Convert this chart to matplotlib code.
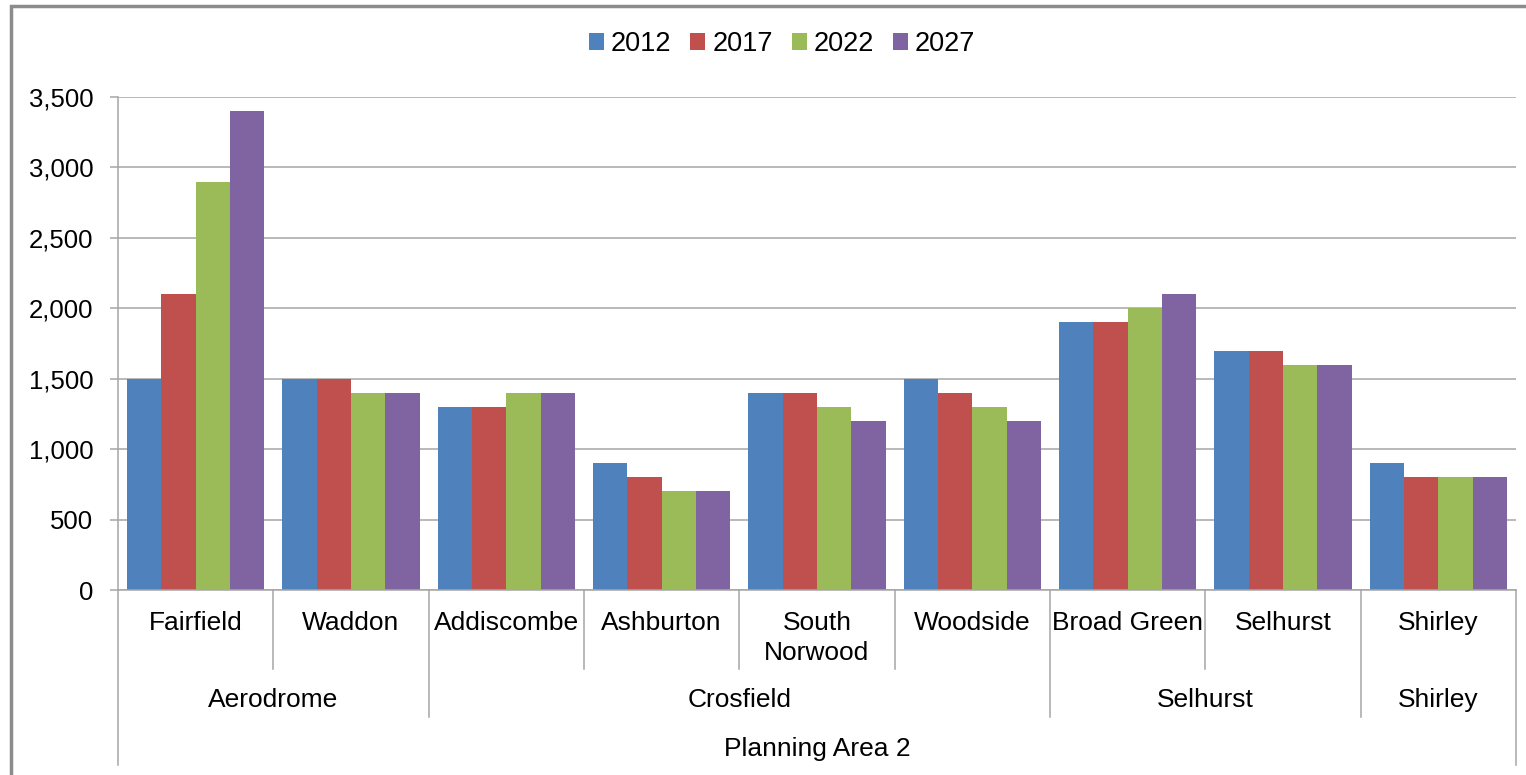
import matplotlib
matplotlib.use("Agg")
import matplotlib.pyplot as plt
import numpy as np
from matplotlib.transforms import blended_transform_factory
from matplotlib.patches import Rectangle

plt.rcParams['font.family'] = ['Liberation Sans', 'DejaVu Sans']

wards = ["Fairfield", "Waddon", "Addiscombe", "Ashburton", "South\nNorwood",
         "Woodside", "Broad Green", "Selhurst", "Shirley"]
groups = ["Aerodrome", "Crosfield", "Selhurst", "Shirley"]
group_sizes = [2, 4, 2, 1]
top_label = "Planning Area 2"
years = ["2012", "2017", "2022", "2027"]
v2012 = [1500, 1500, 1300, 900, 1400, 1500, 1900, 1700, 900]
v2017 = [2100, 1500, 1300, 800, 1400, 1400, 1900, 1700, 800]
v2022 = [2900, 1400, 1400, 700, 1300, 1300, 2000, 1600, 800]
v2027 = [3400, 1400, 1400, 700, 1200, 1200, 2100, 1600, 800]
colors = ["#4F81BD", "#C0504D", "#9BBB59", "#8064A2"]

FS = 19
W, H = 1526, 775
fig = plt.figure(figsize=(W / 100, H / 100), dpi=100)
ax = fig.add_axes([118 / W, 1 - 590 / H, (1516 - 118) / W, (590 - 97) / H])

x = np.arange(len(wards))
bw = 0.221
series = [v2012, v2017, v2022, v2027]
for i, (vals, c, lab) in enumerate(zip(series, colors, years)):
    ax.bar(x + (i - 1.5) * bw, vals, width=bw, color=c, label=lab, zorder=3)

ax.set_xlim(-0.5, len(wards) - 0.5)
ax.set_ylim(0, 3500)
ax.set_yticks(np.arange(0, 3501, 500))
ax.set_yticklabels([f"{v:,}" for v in range(0, 3501, 500)], fontsize=18.5)
ax.yaxis.grid(True, color="#A6A6A6", linewidth=1.1, zorder=0)
ax.set_xticks([])
for s in ["top", "right", "bottom"]:
    ax.spines[s].set_visible(False)
ax.spines["left"].set_color("#A6A6A6")
ax.spines["left"].set_linewidth(1.1)
ax.tick_params(axis="y", length=5.8, color="#A6A6A6", width=1.1, pad=12)

trans = blended_transform_factory(ax.transData, fig.transFigure)

def fy(py):
    return 1 - py / H

# baseline
ax.plot([-0.5, len(wards) - 0.5], [fy(590)] * 2, transform=trans,
        color="#A6A6A6", lw=1.1, clip_on=False, zorder=4)

# ward labels
for i, w in enumerate(wards):
    ax.text(i, fy(611), w, transform=trans, ha="center", va="top",
            fontsize=FS, linespacing=1.33)

# separators
bounds = np.cumsum(group_sizes)[:-1] - 0.5
for b in np.arange(0.5, len(wards) - 0.5, 1.0):
    bottom = 717 if b in bounds else 669
    ax.plot([b, b], [fy(590), fy(bottom)], transform=trans, color="#A6A6A6",
            lw=1.1, clip_on=False)
for b in [-0.5, len(wards) - 0.5]:
    ax.plot([b, b], [fy(590), fy(765)], transform=trans, color="#A6A6A6",
            lw=1.1, clip_on=False)

# group labels
start = 0
for g, n in zip(groups, group_sizes):
    center = start + (n - 1) / 2
    ax.text(center, fy(700), g, transform=trans, ha="center", va="center", fontsize=FS)
    start += n

ax.text((len(wards) - 1) / 2, fy(749), top_label, transform=trans,
        ha="center", va="center", fontsize=FS)

leg = fig.legend(loc="center", bbox_to_anchor=(782 / W, fy(44)), ncol=4,
                 frameon=False, fontsize=19.5, handlelength=0.55, handleheight=0.55,
                 handletextpad=0.25, columnspacing=0.7)

# outer frame
fig.patches.append(Rectangle((11 / W, -0.05), 1.1, fy(6) + 0.05,
                             transform=fig.transFigure, fill=False,
                             edgecolor="#8C8C8C", lw=2.5))

fig.savefig("out.png", dpi=100)
